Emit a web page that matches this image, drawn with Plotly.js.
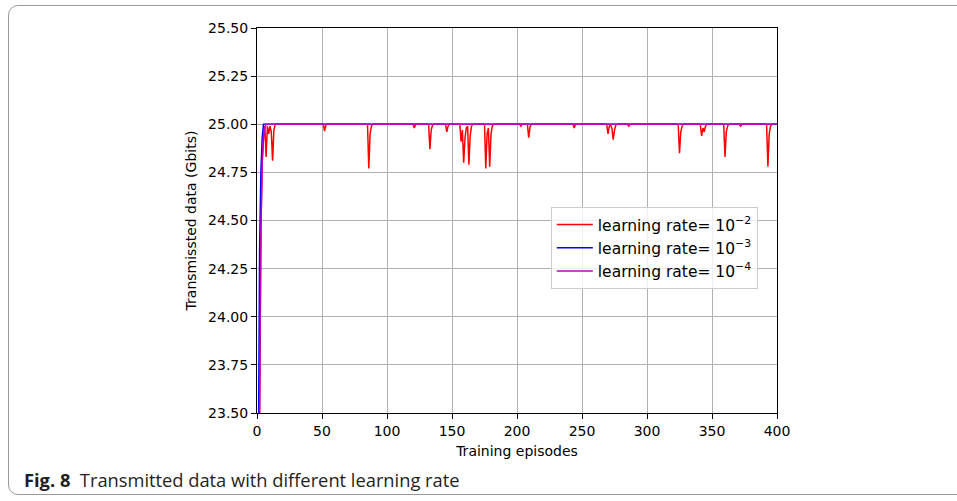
<!DOCTYPE html>
<html>
<head>
<meta charset="utf-8">
<script src="https://cdn.plot.ly/plotly-3.0.1.min.js"></script>
<style>
  html, body { margin: 0; padding: 0; background: #fff; }
  #wrap { position: relative; width: 957px; height: 501px; overflow: hidden; }
  #card { position: absolute; left: 8px; top: 5px; width: 970px; height: 490px;
          border: 1px solid #9a9a9a; border-radius: 10px; box-sizing: border-box; }
  #chart { position: absolute; left: 0; top: 0; width: 957px; height: 501px; }
</style>
</head>
<body>
<div id="wrap">
  <div id="card"></div>
  <div id="chart"></div>
</div>
<script>
// Learning rate 1e-2 (red)
const redEpisodes = [0, 1, 2, 3, 4, 5, 6, 7, 8, 9, 10, 11, 12, 13, 14,
  51, 52, 53, 54,
  85, 86, 87, 88, 89,
  120, 121, 122,
  132, 133, 134, 135, 136,
  145, 146, 147, 148,
  156, 157, 158, 159, 160, 161, 162, 163, 164, 165, 166,
  175, 176, 177, 178, 179, 180, 181, 182,
  202, 203, 204,
  208, 209, 210, 211,
  243, 244, 245,
  269, 270, 271, 272, 273, 274, 275, 276, 277,
  285, 286, 287,
  324, 325, 326, 327, 328,
  341, 342, 343, 344, 345, 346,
  359, 360, 361, 362, 363,
  371, 372, 373,
  392, 393, 394, 395, 396, 400];
const redValues = [21.5, 22.8, 23.5, 24.45, 24.8, 24.93, 24.99, 24.83, 24.99, 24.95, 24.99, 24.96, 24.81, 24.97, 25.0,
  25.0, 24.965, 24.995, 25.0,
  25.0, 24.77, 24.95, 24.99, 25.0,
  25.0, 24.98, 25.0,
  25.0, 24.87, 24.97, 24.995, 25.0,
  25.0, 24.96, 24.99, 25.0,
  25.0, 24.91, 24.97, 24.80, 24.93, 24.98, 24.99, 24.79, 24.94, 24.99, 25.0,
  25.0, 24.77, 24.95, 24.98, 24.78, 24.95, 24.99, 25.0,
  25.0, 24.99, 25.0,
  25.0, 24.93, 24.985, 25.0,
  25.0, 24.98, 25.0,
  25.0, 24.95, 24.99, 24.995, 24.98, 24.92, 24.97, 24.995, 25.0,
  25.0, 24.99, 25.0,
  25.0, 24.85, 24.96, 24.99, 25.0,
  25.0, 24.94, 24.98, 24.96, 24.99, 25.0,
  25.0, 24.83, 24.96, 24.99, 25.0,
  25.0, 24.99, 25.0,
  25.0, 24.78, 24.95, 24.99, 25.0, 25.0];

// Learning rate 1e-3 (blue)
const blueEpisodes = [0, 1, 2, 3, 4, 5, 400];
const blueValues = [22.0, 23.5, 24.35, 24.75, 24.93, 25.0, 25.0];

// Learning rate 1e-4 (magenta)
const magentaEpisodes = [0, 1, 2, 3, 4, 5, 6, 7, 400];
const magentaValues = [21.5, 22.8, 23.5, 24.45, 24.8, 24.93, 24.98, 25.0, 25.0];

const seriesNames = ['learning rate= 10<sup>\u22122</sup>',
                     'learning rate= 10<sup>\u22123</sup>',
                     'learning rate= 10<sup>\u22124</sup>'];

const xTicks = [0, 50, 100, 150, 200, 250, 300, 350, 400];
const yTicks = [23.50, 23.75, 24.00, 24.25, 24.50, 24.75, 25.00, 25.25, 25.50];
const yTickLabels = ['23.50', '23.75', '24.00', '24.25', '24.50', '24.75', '25.00', '25.25', '25.50'];

const font = 'DejaVu Sans, sans-serif';

const traces = [
  { x: redEpisodes, y: redValues, name: seriesNames[0], type: 'scatter', mode: 'lines',
    line: { color: '#ff0000', width: 1.5 } },
  { x: blueEpisodes, y: blueValues, name: seriesNames[1], type: 'scatter', mode: 'lines',
    line: { color: '#0000ff', width: 1.5 } },
  { x: magentaEpisodes, y: magentaValues, name: seriesNames[2], type: 'scatter', mode: 'lines',
    line: { color: '#bf00bf', width: 1.5 } }
];

const layout = {
  width: 957, height: 501,
  margin: { l: 257, r: 180, t: 28, b: 88 },
  paper_bgcolor: 'rgba(0,0,0,0)',
  plot_bgcolor: 'rgba(0,0,0,0)',
  font: { family: font, size: 14, color: '#000' },
  showlegend: true,
  xaxis: {
    range: [0, 400], tickvals: xTicks, ticktext: xTicks.map(String),
    showgrid: true, gridcolor: '#b0b0b0', gridwidth: 1,
    showline: true, linecolor: '#000', linewidth: 1, mirror: true,
    ticks: 'outside', ticklen: 5, tickcolor: '#000',
    zeroline: false,
    title: { text: 'Training episodes', font: { family: font, size: 14 }, standoff: 8 }
  },
  yaxis: {
    range: [23.5, 25.5], tickvals: yTicks, ticktext: yTickLabels,
    showgrid: true, gridcolor: '#b0b0b0', gridwidth: 1,
    showline: true, linecolor: '#000', linewidth: 1, mirror: true,
    ticks: 'outside', ticklen: 5, tickcolor: '#000',
    zeroline: false,
    title: { text: 'Transmissted data (Gbits)', font: { family: font, size: 14 }, standoff: 8 }
  },
  legend: {
    x: 0.565, y: 0.535, xanchor: 'left', yanchor: 'top',
    bgcolor: 'rgba(255,255,255,0.8)', bordercolor: '#cccccc', borderwidth: 1,
    itemwidth: 36,
    font: { family: font, size: 15.5 }
  },
  annotations: [{
    xref: 'paper', yref: 'paper', x: -0.452, y: -0.174, xanchor: 'left', yanchor: 'middle',
    showarrow: false,
    text: '<b>Fig. 8</b>&nbsp;&nbsp;Transmitted data with different learning rate',
    font: { family: 'Open Sans, sans-serif', size: 18.3, color: '#231f20' }
  }]
};

Plotly.newPlot('chart', traces, layout, { staticPlot: true, displayModeBar: false });
</script>
</body>
</html>
